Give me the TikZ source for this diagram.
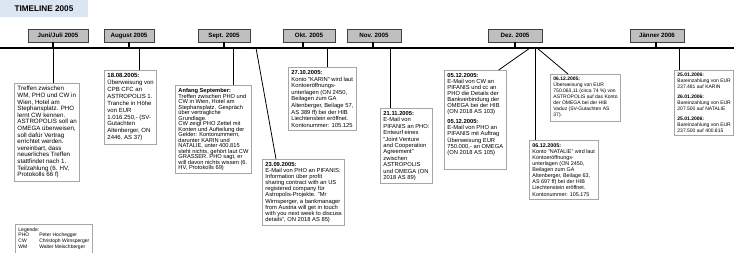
\documentclass[tikz,border=0pt]{standalone}
\usepackage{fontspec}
\setmainfont{Liberation Sans}
\usetikzlibrary{calc}
\definecolor{titlebg}{HTML}{DCE6F2}
\definecolor{monthfill}{HTML}{BFBFBF}
\definecolor{boxline}{HTML}{A6A6A6}
\tikzset{
  monthbox/.style={draw=black!75, line width=0.7pt, fill=monthfill, inner sep=0pt,
    minimum height=13pt, font=\bfseries\fontsize{6.2}{7}\selectfont},
  tbox/.style 2 args={draw=boxline, line width=0.9pt, fill=white, inner xsep=3pt, inner ysep=3pt,
    anchor=north west, align=left, font=\fontsize{#1}{#2}\selectfont},
  conn/.style={draw=black, line width=0.8pt},
  tickmark/.style={draw=black, line width=2.2pt},
}
\begin{document}
\begin{tikzpicture}[x=1pt,y=-1pt]
\useasboundingbox (0,0) rectangle (734,253);
% title
\fill[titlebg] (0,0) rectangle (88,17);
\node[font=\bfseries\fontsize{8.2}{9}\selectfont, anchor=west] (title) at (11,9) {TIMELINE 2005};
% timeline
\draw[line width=2pt] (0,48) coordinate (tl0) -- (734,48) coordinate (tl1);
% month labels
\node[monthbox, minimum width=60pt] (mjun) at (58,35.5) {Juni/Juli 2005};
\node[monthbox, minimum width=50pt] (maug) at (129,35.5) {August 2005};
\node[monthbox, minimum width=52pt] (msep) at (224,35.5) {Sept. 2005};
\node[monthbox, minimum width=52pt] (mokt) at (309,35.5) {Okt. 2005};
\node[monthbox, minimum width=54pt] (mnov) at (374,35.5) {Nov. 2005};
\node[monthbox, minimum width=54pt] (mdez) at (515,35.5) {Dez. 2005};
\node[monthbox, minimum width=54pt] (mjan) at (657,35.5) {Jänner 2006};
% ticks
\foreach \m/\x in {mjun/53,maug/129,msep/224,mokt/303,mnov/373,mdez/515,mjan/656}{
  \draw[tickmark] (\x,42) -- (\x,48);
}
% boxes
\node[tbox={6.2}{6.6}] (bjun) at (14,83) {Treffen zwischen\\WM, PHO und CW in\\Wien, Hotel am\\Stephansplatz. PHO\\lernt CW kennen.\\ASTROPOLIS soll an\\OMEGA überweisen,\\soll dafür Vertrag\\errichtet werden.\\vereinbart, dass\\neuerliches Treffen\\stattfindet nach 1.\\Teilzahlung (6. HV,\\Protokolls 66 f)};
\node[tbox={6}{6.9}] (baug) at (104,70) {\textbf{18.08.2005:}\\Überweisung von\\CPB CFC an\\ASTROPOLIS 1.\\Tranche in Höhe\\von EUR\\1.016.250,- (SV-\\Gutachten\\Altenberger, ON\\2446, AS 37)};
\node[tbox={5.7}{5.5}] (bsep) at (175,85) {\textbf{Anfang September:}\\Treffen zwischen PHO und\\CW in Wien, Hotel am\\Stephansplatz. Gespräch\\über vertragliche\\Grundlage.\\CW zeigt PHO Zettel mit\\Konten und Aufteilung der\\Gelder: Kontonummern,\\darunter KARIN und\\NATALIE, unter 400.815\\steht nichts, gehört laut CW\\GRASSER. PHO sagt, er\\will davon nichts wissen (6.\\HV, Protokolls 69)};
\node[tbox={5.8}{6.1}] (bsep23) at (262,159) {\textbf{23.09.2005:}\\E-Mail von PHO an PIFANIS:\\Information über profit\\sharing contract with an US\\registered company für\\Astropolis-Projekte. "Mr\\Wirnsperger, a bankmanager\\from Austria will get in touch\\with you next week to discuss\\details", ON 2018 AS 85)};
\node[tbox={5.8}{6.6}] (bokt) at (288,67) {\textbf{27.10.2005:}\\Konto "KARIN" wird laut\\Kontoeröffnungs-\\unterlagen (ON 2450,\\Beilagen zum GA\\Altenberger, Beilage 57,\\AS 389 ff) bei der HIB\\Liechtenstein eröffnet.\\Kontonummer: 105.125};
\node[tbox={5.8}{6.4}] (bnov) at (380,108) {\textbf{21.11.2005:}\\E-Mail von\\PIFANIS an PHO:\\Entwurf eines\\"Joint Venture\\and Cooperation\\Agreement"\\zwischen\\ASTROPOLIS\\und OMEGA (ON\\2018 AS 89)};
\node[tbox={5.8}{6}] (bdez5) at (444,70) {\textbf{05.12.2005:}\\E-Mail von CW an\\PIFANIS und cc an\\PHO die Details der\\Bankverbindung der\\OMEGA bei der HIB\\(ON 2018 AS 103)\\[4pt]\textbf{05.12.2005:}\\E-Mail von PHO an\\PIFANIS mit Auftrag\\Überweisung EUR\\750.000,- an OMEGA\\(ON 2018 AS 105)\\[6pt]\mbox{}};
\node[tbox={5.4}{6.1}] (bdez6n) at (529,140) {\textbf{06.12.2005:}\\Konto "NATALIE" wird laut\\Kontoeröffnungs-\\unterlagen (ON 2450,\\Beilagen zum GA\\Altenberger, Beilage 63,\\AS 697 ff) bei der HIB\\Liechtenstein eröffnet.\\Kontonummer: 105.175};
\node[tbox={5}{6}] (bdez6e) at (550,74) {\textbf{06.12.2005:}\\Überweisung von EUR\\750.063,11 (circa 74 \%) von\\ASTROPOLIS auf das Konto\\der OMEGA bei der HIB\\Vaduz (SV-Gutachten AS\\37).};
\node[tbox={5}{5.9}] (bjan) at (674,70) {\textbf{25.01.2006:}\\Bareinzahlung von EUR\\237.481 auf KARIN\\[4pt]\textbf{26.01.2006:}\\Bareinzahlung von EUR\\207.500 auf NATALIE\\[4pt]\textbf{25.01.2006:}\\Bareinzahlung von EUR\\237.500 auf 400.815};
% legend
\node[tbox={5}{6}] (legend) at (15,224) {Legende:\\[-1pt]\begin{tabular}{@{}l@{\hspace{10pt}}l@{}}PHO & Peter Hochegger\\CW & Christoph Wirnsperger\\WM & Walter Meischberger\end{tabular}};
% connectors
\coordinate (cjun) at (53,48);
\coordinate (caug) at (139,48);
\coordinate (csep) at (233,48);
\coordinate (csep23) at (256,48);
\coordinate (cokt) at (327,48);
\coordinate (cnov) at (390,48);
\coordinate (cdez5) at (530,48);
\coordinate (cdez6n) at (535,48);
\coordinate (cdez6e) at (537,48);
\coordinate (cjan) at (679,48);
\draw[conn] (cjun) -- (cjun |- bjun.north);
\draw[conn] (caug) -- (caug |- baug.north);
\draw[conn] (csep) -- (csep |- bsep.north);
\coordinate (esep23) at ($(bsep23.north west)+(14,0)$);
\draw[conn] (csep23) -- (esep23);
\draw[conn] (cokt) -- (cokt |- bokt.north);
\draw[conn] (cnov) -- (cnov |- bnov.north);
\coordinate (edez5) at ($(bdez5.north east)+(-8,0)$);
\draw[conn] (cdez5) -- (edez5);
\draw[conn] (cdez6n) -- (cdez6n |- bdez6n.north);
\coordinate (edez6e) at ($(bdez6e.north west)+(18,0)$);
\draw[conn] (cdez6e) -- (edez6e);
\draw[conn] (cjan) -- (cjan |- bjan.north);
\end{tikzpicture}
\end{document}
